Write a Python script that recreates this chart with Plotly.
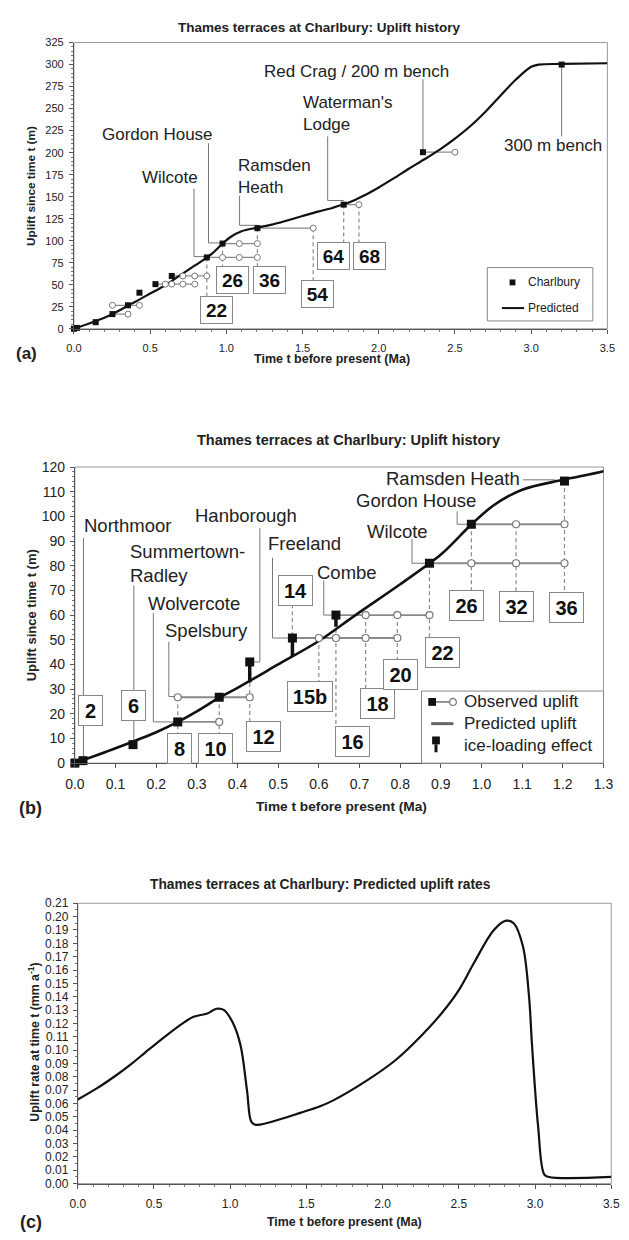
import plotly.graph_objects as go

W, H = 629, 1240
FONT = "Liberation Sans, Arial, Helvetica, sans-serif"

# ------------------------------------------------------------------ data
# Predicted uplift at Charlbury (m) since time t (Ma)
pred_t = [0.0, 0.1, 0.2, 0.253, 0.3, 0.355, 0.4, 0.5, 0.6, 0.69, 0.8, 0.9, 0.975, 1.03,
          1.1, 1.2, 1.3, 1.4, 1.5, 1.6, 1.7, 1.8, 1.9, 2.0, 2.1, 2.2, 2.3, 2.4, 2.5,
          2.6, 2.7, 2.8, 2.9, 3.0, 3.05, 3.2, 3.5]
pred_u = [0.0, 6.0, 12.5, 16.7, 21.0, 26.5, 30.5, 40.0, 49.5, 60.0, 72.5, 84.5, 96.7, 104.5,
          110.8, 114.8, 118.3, 123.0, 128.0, 133.0, 137.5, 143.0, 151.0, 160.5, 171.0, 182.0,
          192.5, 203.5, 216.0, 230.0, 246.5, 265.0, 283.0, 297.5, 300.0, 300.7, 301.5]

# Predicted uplift rate (mm/a) at time t (Ma)
rate_t = [0.0, 0.127, 0.25, 0.35, 0.44, 0.57, 0.70, 0.76, 0.85, 0.91, 0.96, 1.015, 1.067,
          1.11, 1.14, 1.17, 1.35, 1.46, 1.59, 1.67, 1.88, 2.09, 2.26, 2.39, 2.5, 2.6, 2.73,
          2.81, 2.86, 2.92, 2.96, 2.98, 3.02, 3.06, 3.09, 3.5]
rate_r = [0.063, 0.0715, 0.081, 0.0895, 0.098, 0.110, 0.121, 0.125, 0.1275, 0.131, 0.130,
          0.121, 0.104, 0.070, 0.046, 0.044, 0.049, 0.053, 0.058, 0.062, 0.076, 0.093, 0.1115,
          0.128, 0.145, 0.1655, 0.190, 0.197, 0.195, 0.178, 0.141, 0.104, 0.043, 0.007, 0.005,
          0.005]

# Observed terrace sites (filled squares)
site_names = ["Present", "Northmoor", "Summertown-Radley", "Wolvercote", "Spelsbury",
              "Hanborough", "Freeland", "Combe", "Wilcote", "Gordon House", "Ramsden Heath",
              "Waterman's Lodge", "Red Crag / 200 m bench", "300 m bench"]
site_t = [0.0, 0.02, 0.143, 0.253, 0.355, 0.43, 0.535, 0.642, 0.872, 0.975, 1.204, 1.77, 2.29, 3.2]
site_u = [0.0, 1.0, 7.5, 16.7, 26.7, 41.0, 50.7, 60.0, 81.0, 96.8, 114.3, 141.0, 200.5, 300.0]

# Alternative ages (open circles) for sites
alt_site = ["Wolvercote", "Spelsbury", "Freeland", "Combe", "Wilcote", "Gordon House",
            "Ramsden Heath", "Waterman's Lodge", "Red Crag / 200 m bench"]
alt_t = [[0.355], [0.253, 0.43], [0.60, 0.642, 0.715, 0.793], [0.715, 0.793, 0.872],
         [0.975, 1.085, 1.204], [1.085, 1.204], [1.57], [1.87], [2.5]]

# Ice-loading effect
ice_site = ["Hanborough", "Freeland", "Combe"]
ice_base = [32.7, 43.3, 55.3]

# Marine isotope stages
mis_labels = ["2", "6", "8", "10", "12", "14", "15b", "16", "18", "20", "22", "26", "32",
              "36", "54", "64", "68"]
mis_t = [0.02, 0.143, 0.253, 0.355, 0.43, 0.535, 0.60, 0.642, 0.715, 0.793, 0.872, 0.975,
         1.085, 1.204, 1.57, 1.77, 1.87]

# ------------------------------------------------------------------ layout helpers (positions)
def px(x): return x / W
def py(y): return 1 - y / H

s_idx = {n: i for i, n in enumerate(site_names)}
m_idx = {n: i for i, n in enumerate(mis_labels)}

all_pts = [(t, u) for t, u in zip(site_t, site_u)]
for n, ts in zip(alt_site, alt_t):
    all_pts += [(t, site_u[s_idx[n]]) for t in ts]

def top_at(t):
    return max(u for tt, u in all_pts if abs(tt - t) < 1e-6)

# Panel (a) label boxes: (label, centre t, centre u)
a_boxes = [("22", 0.934, 21.9), ("26", 1.042, 55.5), ("36", 1.283, 55.5),
           ("54", 1.595, 39.2), ("64", 1.703, 82.9), ("68", 1.938, 82.9)]
a_box_half = 14.0
# Panel (b) label boxes
b_boxes = [("2", 0.038, 21.2), ("6", 0.144, 23.2), ("8", 0.257, 6.0), ("10", 0.345, 6.0),
           ("12", 0.464, 10.8), ("14", 0.543, 70.0), ("15b", 0.579, 27.2), ("16", 0.683, 8.8),
           ("18", 0.745, 24.0), ("20", 0.80, 36.0), ("22", 0.905, 44.8), ("26", 0.962, 64.0),
           ("32", 1.086, 63.6), ("36", 1.21, 63.2)]
b_box_half = 5.6
b_no_drop = {"2", "6"}

a_text = [("Gordon House", 0.546, 220.8, "center"), ("Wilcote", 0.63, 171.5, "center"),
          ("Ramsden<br>Heath", 1.061, 173.0, "left"), ("Waterman's<br>Lodge", 1.487, 244.3, "left"),
          ("Red Crag / 200 m bench", 1.855, 292.5, "center"), ("300 m bench", 3.145, 208.4, "center")]
a_lead = [[(0.883, 210.7), (0.883, 97.5), (0.975, 97.5)],
          [(0.788, 159.0), (0.788, 82.0), (0.872, 82.0)],
          [(1.087, 151.0), (1.087, 117.5), (1.204, 117.5)],
          [(1.665, 218.5), (1.665, 145.7), (1.77, 145.7)],
          [(2.29, 283.5), (2.29, 200.5)],
          [(3.2, 300.0), (3.2, 218.5)]]

b_text = [("Northmoor", 0.017, 96.4, "left"), ("Hanborough", 0.42, 100.4, "center"),
          ("Summertown-<br>Radley", 0.131, 80.8, "left"), ("Freeland", 0.471, 88.8, "left"),
          ("Wolvercote", 0.294, 64.8, "center"), ("Spelsbury", 0.323, 53.6, "center"),
          ("Combe", 0.668, 77.2, "center"), ("Wilcote", 0.793, 94.0, "center"),
          ("Gordon House", 0.84, 106.4, "center"), ("Ramsden Heath", 0.93, 115.2, "center")]
b_lead = [[(0.021, 91.2), (0.021, 1.0)],
          [(0.145, 72.0), (0.145, 7.5)],
          [(0.193, 60.8), (0.193, 16.7), (0.253, 16.7)],
          [(0.231, 49.2), (0.231, 27.0), (0.253, 27.0)],
          [(0.455, 95.2), (0.455, 41.0), (0.43, 41.0)],
          [(0.486, 83.2), (0.486, 50.7), (0.535, 50.7)],
          [(0.612, 74.0), (0.612, 60.0), (0.642, 60.0)],
          [(0.829, 90.8), (0.829, 81.0), (0.872, 81.0)],
          [(0.94, 102.0), (0.94, 96.8), (0.975, 96.8)],
          [(1.102, 114.8), (1.181, 114.8)]]

def poly(lines):
    xs, ys = [], []
    for ln in lines:
        for x, y in ln:
            xs.append(x); ys.append(y)
        xs.append(None); ys.append(None)
    return xs, ys

GRAY = "#8a8a8a"
fig = go.Figure()

def panel_traces(xa, ya, tmax, boxes, half, no_drop, leads, hl_w, curve_w):
    hl = []
    oc_x, oc_y = [], []
    for n, ts in zip(alt_site, alt_t):
        if max(ts) > tmax:
            continue
        i = s_idx[n]
        allx = ts + [site_t[i]]
        hl.append([(min(allx), site_u[i]), (max(allx), site_u[i])])
        oc_x += ts; oc_y += [site_u[i]] * len(ts)
    dr = []
    for lab, bt, bu in boxes:
        if lab in no_drop:
            continue
        t = mis_t[m_idx[lab]]
        top = top_at(t)
        if bu > top:
            dr.append([(t, bu - half), (t, top)])
        else:
            dr.append([(t, top), (t, bu + half)])
    x, y = poly(dr)
    fig.add_trace(go.Scatter(x=x, y=y, mode="lines", xaxis=xa, yaxis=ya,
                             line=dict(color=GRAY, width=1.2, dash="4px,3px"), showlegend=False, hoverinfo="skip"))
    x, y = poly(leads)
    fig.add_trace(go.Scatter(x=x, y=y, mode="lines", xaxis=xa, yaxis=ya,
                             line=dict(color="#777", width=1), showlegend=False, hoverinfo="skip"))
    x, y = poly(hl)
    fig.add_trace(go.Scatter(x=x, y=y, mode="lines", xaxis=xa, yaxis=ya,
                             line=dict(color=GRAY, width=hl_w), showlegend=False, hoverinfo="skip"))
    fig.add_trace(go.Scatter(x=pred_t, y=pred_u, mode="lines", xaxis=xa, yaxis=ya,
                             line=dict(color="#111", width=curve_w, shape="spline", smoothing=0.9),
                             showlegend=False, hoverinfo="skip"))
    return oc_x, oc_y

# ---- panel (a)
ocx, ocy = panel_traces("x", "y", 3.5, a_boxes, a_box_half, set(), a_lead, 1.2, 2.2)
fig.add_trace(go.Scatter(x=ocx, y=ocy, mode="markers", xaxis="x", yaxis="y", cliponaxis=False,
                         marker=dict(symbol="circle", size=6, color="white", line=dict(color="#777", width=1)),
                         showlegend=False, hoverinfo="skip"))
fig.add_trace(go.Scatter(x=site_t, y=site_u, mode="markers", xaxis="x", yaxis="y", cliponaxis=False,
                         marker=dict(symbol="square", size=6, color="#111"), showlegend=False, hoverinfo="skip"))

# ---- panel (b)
ocx, ocy = panel_traces("x2", "y2", 1.3, b_boxes, b_box_half, b_no_drop, b_lead, 1.8, 2.6)
ix, iy = [], []
for n, base in zip(ice_site, ice_base):
    i = s_idx[n]
    ix += [site_t[i], site_t[i], None]; iy += [site_u[i], base, None]
fig.add_trace(go.Scatter(x=ix, y=iy, mode="lines", xaxis="x2", yaxis="y2",
                         line=dict(color="#111", width=3.5), showlegend=False, hoverinfo="skip"))
fig.add_trace(go.Scatter(x=ocx, y=ocy, mode="markers", xaxis="x2", yaxis="y2", cliponaxis=False,
                         marker=dict(symbol="circle", size=7, color="white", line=dict(color="#777", width=1.2)),
                         showlegend=False, hoverinfo="skip"))
bt = [t for t in site_t if t <= 1.3]
bu = [u for t, u in zip(site_t, site_u) if t <= 1.3]
fig.add_trace(go.Scatter(x=bt, y=bu, mode="markers", xaxis="x2", yaxis="y2", cliponaxis=False,
                         marker=dict(symbol="square", size=9, color="#111"), showlegend=False, hoverinfo="skip"))

# ---- panel (c)
fig.add_trace(go.Scatter(x=rate_t, y=rate_r, mode="lines", xaxis="x3", yaxis="y3",
                         line=dict(color="#111", width=2.2, shape="spline", smoothing=1.0),
                         showlegend=False, hoverinfo="skip"))

# ------------------------------------------------------------------ axes
def ax(rng, dtick, fmt, fsize, domain, anchor, minor=None, standoff=0):
    d = dict(range=rng, dtick=dtick, tick0=0, tickformat=fmt,
             tickfont=dict(family=FONT, size=fsize, color="#222"),
             ticks="outside", ticklen=4, tickcolor="#555", showline=True, linecolor="#555",
             linewidth=1, showgrid=False, zeroline=False, domain=domain, anchor=anchor,
             fixedrange=True, ticklabelstandoff=standoff)
    if minor:
        d["minor"] = dict(tick0=0, dtick=minor, ticks="outside", ticklen=2, tickcolor="#777",
                          showgrid=False)
    return d

fig.update_layout(
    width=W, height=H, margin=dict(l=0, r=0, t=0, b=0),
    paper_bgcolor="white", plot_bgcolor="white", showlegend=False,
    font=dict(family=FONT, color="#222"),
    xaxis=ax([0, 3.5], 0.5, ".1f", 11, [px(66), px(617)], "y", 0.1, 5),
    yaxis=ax([0, 325], 25, "d", 11, [py(325), py(35)], "x", 5, 3),
    xaxis2=ax([0, 1.3], 0.1, ".1f", 14, [px(67), px(613)], "y2", None, 4),
    yaxis2=ax([0, 120], 10, "d", 14, [py(765), py(465)], "x2", 2, 2),
    xaxis3=ax([0, 3.5], 0.5, ".1f", 12, [px(70), px(621)], "y3", 0.1, 5),
    yaxis3=ax([0, 0.21], 0.01, ".2f", 12, [py(1191), py(907)], "x3", 0.005, 2),
)

shapes = []
for xr, yr in [("x", "y"), ("x2", "y2"), ("x3", "y3")]:
    shapes.append(dict(type="rect", xref=xr + " domain", yref=yr + " domain", x0=0, x1=1, y0=0, y1=1,
                       line=dict(color="#999", width=1), layer="below"))

anns = []
def pann(text, x, y, size, bold=False, xanchor="center", angle=0, yanchor="middle"):
    anns.append(dict(text=("<b>%s</b>" % text) if bold else text, x=px(x), y=py(y), xref="paper",
                     yref="paper", showarrow=False, xanchor=xanchor, yanchor=yanchor, textangle=angle,
                     font=dict(family=FONT, size=size, color="#222")))

# titles
pann("Thames terraces at Charlbury: Uplift history", 320, 20, 13.5, True)
pann("Thames terraces at Charlbury: Uplift history", 350, 438, 14.5, True)
pann("Thames terraces at Charlbury: Predicted uplift rates", 321, 888, 13.8, True)
# axis titles
pann("Time t before present (Ma)", 333, 356, 12.5, True)
pann("Time t before present (Ma)", 342, 809, 13.7, True)
pann("Time t before present (Ma)", 346, 1230, 12.4, True)
pann("Uplift since time t (m)", 21, 180, 11.8, True, angle=-90)
pann("Uplift since time t (m)", 22, 615, 13, True, angle=-90)
pann("Uplift rate at time t (mm a<sup>-1</sup>)", 25, 1048, 12.3, True, angle=-90)
# panel letters
pann("(a)", 4, 350, 17, True, xanchor="left")
pann("(b)", 7, 810, 18, True, xanchor="left")
pann("(c)", 8, 1230, 18, True, xanchor="left")

for txt, t, u, anc in a_text:
    anns.append(dict(text=txt, x=t, y=u, xref="x", yref="y", showarrow=False, xanchor=anc,
                     align=anc, font=dict(family=FONT, size=17, color="#222")))
for txt, t, u, anc in b_text:
    anns.append(dict(text=txt, x=t, y=u, xref="x2", yref="y2", showarrow=False, xanchor=anc,
                     align=anc, font=dict(family=FONT, size=18.5, color="#222")))

def bw(lab):
    return 21 if len(lab) == 1 else (31 if len(lab) == 2 else 42)

for lab, t, u in a_boxes:
    anns.append(dict(text="<b>%s</b>" % lab, x=t, y=u, xref="x", yref="y", showarrow=False,
                     bgcolor="white", bordercolor="#888", borderwidth=1, width=29, height=24,
                     font=dict(family=FONT, size=19, color="#111")))
for lab, t, u in b_boxes:
    anns.append(dict(text="<b>%s</b>" % lab, x=t, y=u, xref="x2", yref="y2", showarrow=False,
                     bgcolor="white", bordercolor="#888", borderwidth=1, width=bw(lab), height=27,
                     font=dict(family=FONT, size=20, color="#111")))

# legend (a)
shapes.append(dict(type="rect", xref="paper", yref="paper", x0=px(493), x1=px(602), y0=py(317), y1=py(263),
                   line=dict(color="#888", width=1), fillcolor="white"))
shapes.append(dict(type="rect", xref="paper", yref="paper", x0=px(516), x1=px(522), y0=py(281), y1=py(275),
                   line=dict(width=0), fillcolor="#111"))
shapes.append(dict(type="line", xref="paper", yref="paper", x0=px(508), x1=px(531), y0=py(304), y1=py(304),
                   line=dict(color="#111", width=2)))
pann("Charlbury", 533, 278, 12, xanchor="left")
pann("Predicted", 533, 304, 12, xanchor="left")

# legend (b)
shapes.append(dict(type="rect", xref="paper", yref="paper", x0=px(425), x1=px(613), y0=py(765), y1=py(692),
                   line=dict(color="#888", width=1), fillcolor="white"))
shapes.append(dict(type="line", xref="paper", yref="paper", x0=px(436), x1=px(457), y0=py(703), y1=py(703),
                   line=dict(color=GRAY, width=1.8)))
shapes.append(dict(type="rect", xref="paper", yref="paper", x0=px(432), x1=px(440), y0=py(707), y1=py(699),
                   line=dict(width=0), fillcolor="#111"))
shapes.append(dict(type="circle", xref="paper", yref="paper", x0=px(454), x1=px(461), y0=py(706.5), y1=py(699.5),
                   line=dict(color="#777", width=1.2), fillcolor="white"))
shapes.append(dict(type="line", xref="paper", yref="paper", x0=px(435), x1=px(458), y0=py(725), y1=py(725),
                   line=dict(color="#666", width=3)))
shapes.append(dict(type="rect", xref="paper", yref="paper", x0=px(436), x1=px(444), y0=py(746), y1=py(738),
                   line=dict(width=0), fillcolor="#111"))
shapes.append(dict(type="line", xref="paper", yref="paper", x0=px(440), x1=px(440), y0=py(746), y1=py(754),
                   line=dict(color="#111", width=3)))
pann("Observed uplift", 467, 703, 17, xanchor="left")
pann("Predicted uplift", 467, 725, 17, xanchor="left")
pann("ice-loading effect", 467, 747, 17, xanchor="left")

fig.update_layout(shapes=shapes, annotations=anns)
fig.write_html("out.html", config={"displayModeBar": False},
               post_script="document.body.style.margin='0px';")
